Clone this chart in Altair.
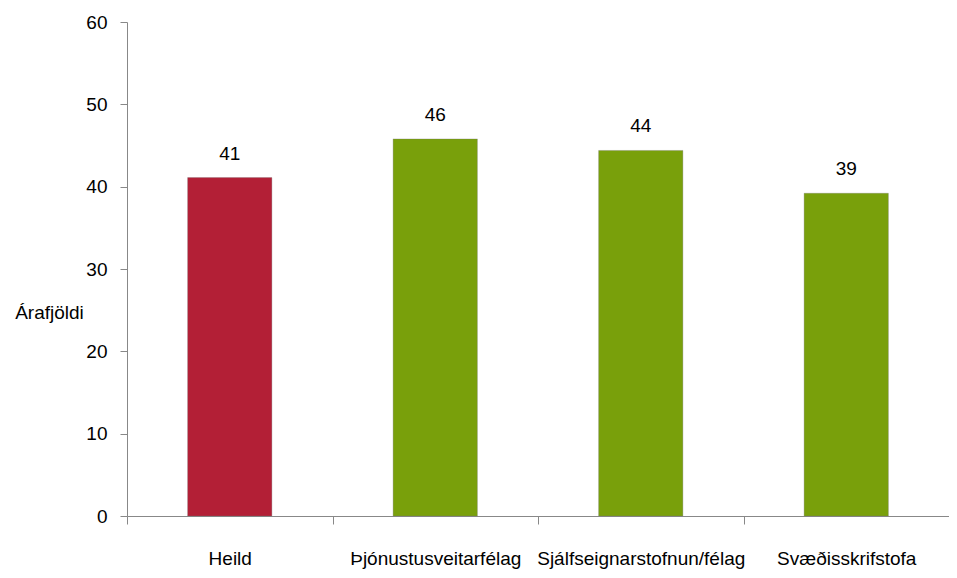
import altair as alt
import pandas as pd

categories = ["Heild", "Þjónustusveitarfélag", "Sjálfseignarstofnun/félag", "Svæðisskrifstofa"]
values = [41.1, 45.8, 44.4, 39.2]
groups = ["heild", "hópur", "hópur", "hópur"]
group_domain = ["heild", "hópur"]
group_colors = ["#B31F36", "#79A00B"]

df = pd.DataFrame({"flokkur": categories, "gildi": values, "hopur": groups})

FONT = "Liberation Sans, Arial, sans-serif"
FS = 19

x = alt.X(
    "flokkur:N",
    sort=categories,
    scale=alt.Scale(paddingInner=0, paddingOuter=0),
    axis=alt.Axis(
        title=None,
        labelAngle=0,
        labelFont=FONT,
        labelFontSize=FS,
        labelColor="#000000",
        labelPadding=25,
        tickBand="extent",
        tickSize=8,
        tickColor="#888888",
        domainColor="#888888",
        labelLimit=300,
    ),
)

y = alt.Y(
    "gildi:Q",
    scale=alt.Scale(domain=[0, 60]),
    axis=alt.Axis(
        values=[0, 10, 20, 30, 40, 50, 60],
        title="Árafjöldi",
        titleAngle=0,
        titleFont=FONT,
        titleFontSize=FS,
        titleFontWeight="normal",
        titleColor="#000000",
        titleAlign="center",
        titleBaseline="middle",
        titleX=-78,
        titleY=290,
        labelFont=FONT,
        labelFontSize=FS,
        labelColor="#000000",
        labelPadding=13,
        tickSize=7,
        tickColor="#888888",
        domainColor="#888888",
        grid=False,
    ),
)

bars = alt.Chart(df).mark_bar(
    width=alt.RelativeBandSize(0.41),
    stroke="#6f6f6f",
    strokeOpacity=0.3,
    strokeWidth=1,
).encode(
    x=x,
    y=y,
    color=alt.Color("hopur:N", scale=alt.Scale(domain=group_domain, range=group_colors), legend=None),
)

labels = alt.Chart(df).mark_text(
    baseline="bottom", dy=-14, font=FONT, fontSize=FS, color="#000000"
).encode(
    x=alt.X("flokkur:N", sort=categories),
    y="gildi:Q",
    text=alt.Text("gildi:Q", format=".0f"),
)

chart = (
    alt.layer(bars, labels)
    .properties(
        width=822,
        height=494,
        autosize=alt.AutoSizeParams(type="none"),
        padding={"left": 119, "top": 14, "right": 0, "bottom": 54},
        background="#ffffff",
    )
    .configure_view(stroke=None)
)

chart.save("out.html", embed_options={"renderer": "svg", "actions": False})
